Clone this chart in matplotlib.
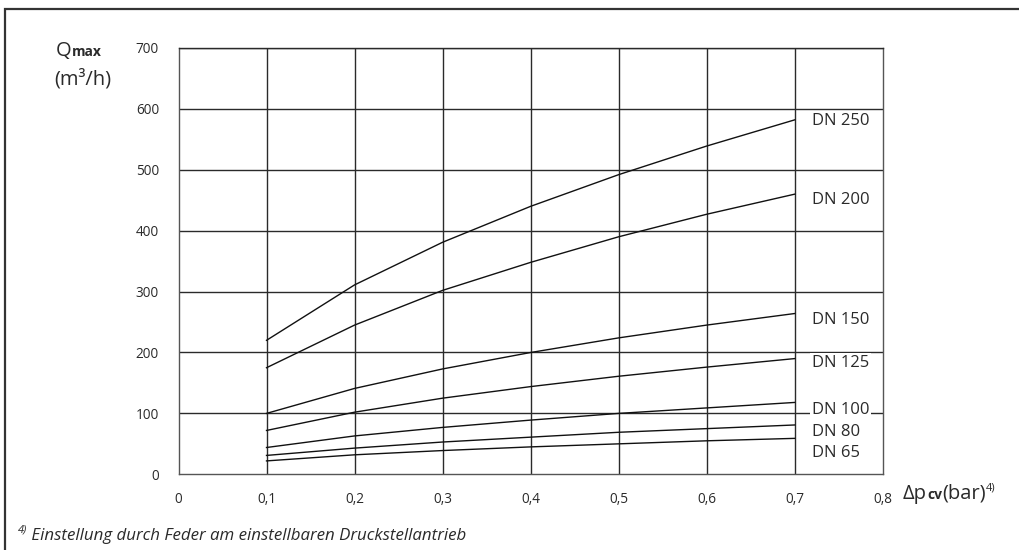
import matplotlib
matplotlib.use("Agg")
import matplotlib.pyplot as plt
from matplotlib.patches import Rectangle

# Pressure difference across the control valve (bar)
dp = [0.1, 0.2, 0.3, 0.4, 0.5, 0.6, 0.7]

# Maximum flow per nominal diameter (m³/h)
series_names = ["DN 250", "DN 200", "DN 150", "DN 125", "DN 100", "DN 80", "DN 65"]
q_dn250 = [220, 311, 381, 440, 492, 539, 582]
q_dn200 = [175, 245, 302, 348, 390, 427, 460]
q_dn150 = [100, 141, 173, 200, 224, 245, 264]
q_dn125 = [72, 102, 125, 144, 161, 176, 190]
q_dn100 = [44, 63, 77, 89, 100, 109, 118]
q_dn80 = [31, 43, 53, 61, 69, 75, 81]
q_dn65 = [22, 32, 39, 45, 50, 55, 59]
series = [q_dn250, q_dn200, q_dn150, q_dn125, q_dn100, q_dn80, q_dn65]

x_ticks = [0, 0.1, 0.2, 0.3, 0.4, 0.5, 0.6, 0.7, 0.8]
x_tick_labels = ["0", "0,1", "0,2", "0,3", "0,4", "0,5", "0,6", "0,7", "0,8"]
y_ticks = [0, 100, 200, 300, 400, 500, 600, 700]

# vertical placement of the DN labels on the right side (data units)
label_y = [580, 451, 253, 183, 105, 70, 35]

FONT = "Open Sans"
INK = "#2a2a2a"
plt.rcParams["font.family"] = [FONT, "DejaVu Sans"]

W, H = 1019, 550
fig = plt.figure(figsize=(W / 100, H / 100), dpi=100)
ax = fig.add_axes([178.5 / W, 1 - 474.3 / H, (882.7 - 178.5) / W, (474.3 - 48) / H])

ax.set_xlim(0, 0.8)
ax.set_ylim(0, 700)

# grid lines
for xv in x_ticks[1:-1]:
    ax.axvline(xv, color=INK, lw=1.0, zorder=1)
for yv in y_ticks[1:]:
    ax.axhline(yv, color=INK, lw=1.0, zorder=1)

for s in ["left", "right", "top", "bottom"]:
    ax.spines[s].set_visible(True)
    ax.spines[s].set_color("#555555")
    ax.spines[s].set_linewidth(1.0)
ax.spines["top"].set_color(INK)

for vals in series:
    ax.plot(dp, vals, color="#111111", lw=1.0, zorder=3)

for name, yl in zip(series_names, label_y):
    ax.text(0.7 + 0.0195, yl, name, fontsize=12, color=INK, va="center", ha="left",
            zorder=4,
            bbox=dict(boxstyle="square,pad=0.12", facecolor="white", edgecolor="none"))

ax.set_xticks(x_ticks)
ax.set_xticklabels(x_tick_labels)
ax.set_yticks(y_ticks)
ax.tick_params(length=0, labelsize=9.8, colors=INK)
ax.tick_params(axis="x", pad=13)
ax.tick_params(axis="y", pad=14)
for lab in ax.get_xticklabels() + ax.get_yticklabels():
    lab.set_color(INK)

# outer frame
fig.patches.append(Rectangle((5 / W, -0.1), 1.2, (H - 8.5) / H + 0.1, transform=fig.transFigure,
                             fill=False, edgecolor="#333333", lw=1.6))

renderer = fig.canvas.get_renderer()


def text_run(x_px, y_px, pieces):
    """Draw consecutive text pieces on a common baseline, in pixel coordinates from top-left."""
    x = x_px
    for txt, size, weight, style, dy in pieces:
        t = fig.text(x / W, 1 - (y_px - dy) / H, txt, fontsize=size, fontweight=weight,
                     fontstyle=style, color=INK, ha="left", va="baseline")
        bb = t.get_window_extent(renderer=renderer)
        x += bb.width


# y axis title
text_run(56, 56, [("Q", 14.5, "normal", "normal", 0), ("max", 10, "bold", "normal", 0)])
text_run(54, 84, [("(m³/h)", 14.5, "normal", "normal", 0)])

# x axis title
text_run(903, 499, [("Δp", 14.5, "normal", "normal", 0), ("cv", 10, "bold", "normal", 0),
                    ("(bar)", 14.5, "normal", "normal", 0), ("4)", 8, "normal", "normal", 9)])

# footnote
text_run(18, 540, [("4)", 8, "normal", "italic", 8), (" Einstellung durch Feder am einstellbaren Druckstellantrieb",
                                                       12.2, "normal", "italic", 0)])

fig.savefig("out.png", dpi=100, facecolor="white")
